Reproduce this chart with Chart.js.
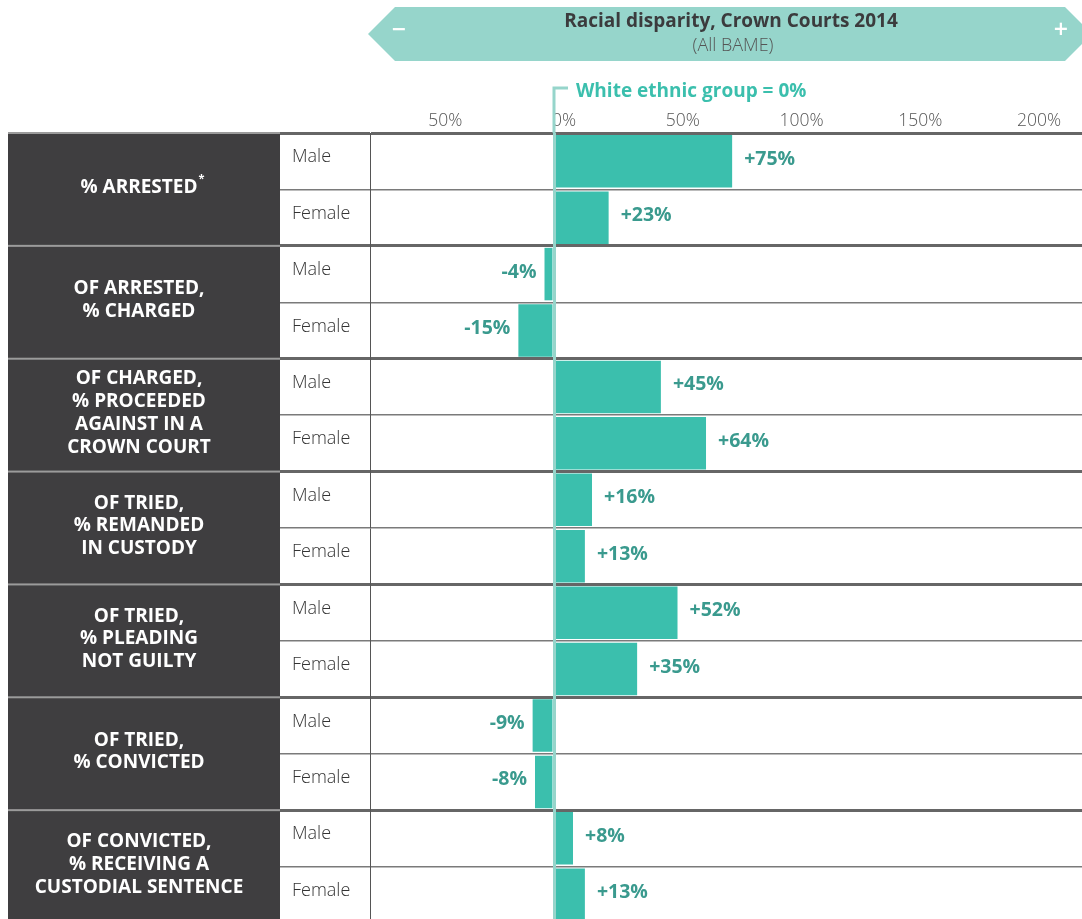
<!DOCTYPE html>
<html lang="en">
<head>
<meta charset="UTF-8">
<title>Racial disparity, Crown Courts 2014</title>
<script src="https://cdn.jsdelivr.net/npm/chart.js"></script>
<style>
  html, body { margin: 0; padding: 0; background: #fff; overflow: hidden; }
  .wrap { position: relative; width: 1082px; height: 923px; }
</style>
</head>
<body>
<div class="wrap"><canvas id="chart"></canvas></div>
<script>
// data
const groups = [
  ['% ARRESTED'],
  ['OF ARRESTED,', '% CHARGED'],
  ['OF CHARGED,', '% PROCEEDED', 'AGAINST IN A', 'CROWN COURT'],
  ['OF TRIED,', '% REMANDED', 'IN CUSTODY'],
  ['OF TRIED,', '% PLEADING', 'NOT GUILTY'],
  ['OF TRIED,', '% CONVICTED'],
  ['OF CONVICTED,', '% RECEIVING A', 'CUSTODIAL SENTENCE']
];
const groupMarks = ['*', '', '', '', '', '', ''];
const sexes = ['Male', 'Female'];
const maleValues = [75, -4, 45, 16, 52, -9, 8];
const femaleValues = [23, -15, 64, 13, 35, -8, 13];
const tickValues = [-50, 0, 50, 100, 150, 200];

const labels = groups.flatMap(() => sexes);
const values = groups.flatMap((g, i) => [maleValues[i], femaleValues[i]]);

const FONT = "'Open Sans', 'Noto Sans', sans-serif";
const TEAL = '#3bbfad';
const TEAL_LIGHT = '#96d5cb';
const TEAL_TEXT = '#3a9a8e';

const ink = {
  id: 'ink',
  beforeDraw(chart) {
    const { ctx, scales: { y } } = chart;
    const half = (y.getPixelForValue(1) - y.getPixelForValue(0)) / 2;
    ctx.save();

    // header banner
    ctx.beginPath();
    ctx.moveTo(368, 34);
    ctx.lineTo(395, 7);
    ctx.lineTo(1065, 7);
    ctx.lineTo(1092, 34);
    ctx.lineTo(1065, 61);
    ctx.lineTo(395, 61);
    ctx.closePath();
    ctx.fillStyle = TEAL_LIGHT;
    ctx.fill();
    ctx.textAlign = 'center';
    ctx.textBaseline = 'middle';
    ctx.fillStyle = '#3b3b3d';
    ctx.font = 'bold 19px ' + FONT;
    ctx.fillText('Racial disparity, Crown Courts 2014', 731, 22);
    ctx.fillStyle = '#555';
    ctx.font = '300 18px ' + FONT;
    ctx.fillText('(All BAME)', 733, 46);
    ctx.fillStyle = '#fff';
    ctx.font = '600 25px ' + FONT;
    ctx.fillText('\u2212', 399, 31);
    ctx.fillText('+', 1061, 31);

    // dark group boxes
    groups.forEach((lines, g) => {
      const top = y.getPixelForValue(g * 2) - half;
      const bot = y.getPixelForValue(g * 2 + 1) + half;
      ctx.fillStyle = '#3f3e40';
      ctx.fillRect(8, top, 272, bot - top);
      ctx.fillStyle = '#fff';
      ctx.font = 'bold 19px ' + FONT;
      ctx.textAlign = 'center';
      const lh = 22.7;
      const mid = (top + bot) / 2 - 2;
      lines.forEach((t, k) => {
        const ty = mid + (k - (lines.length - 1) / 2) * lh;
        ctx.fillText(t, 139, ty);
        if (groupMarks[g] && k === lines.length - 1) {
          const w = ctx.measureText(t).width;
          ctx.font = 'bold 11px ' + FONT;
          ctx.textAlign = 'left';
          ctx.fillText(groupMarks[g], 139 + w / 2 + 1, ty - 9);
          ctx.font = 'bold 19px ' + FONT;
          ctx.textAlign = 'center';
        }
      });
      // separator inside the dark column
      ctx.fillStyle = '#9b9b9b';
      ctx.fillRect(8, top - 1, 272, 2);
    });
    ctx.restore();
  },
  afterDatasetsDraw(chart) {
    const { ctx } = chart;
    const meta = chart.getDatasetMeta(0);
    ctx.save();
    ctx.font = 'bold 19.5px ' + FONT;
    ctx.fillStyle = TEAL_TEXT;
    ctx.textBaseline = 'middle';
    meta.data.forEach((bar, i) => {
      const v = values[i];
      const txt = (v > 0 ? '+' : '') + v + '%';
      ctx.textAlign = v < 0 ? 'right' : 'left';
      ctx.fillText(txt, bar.x + (v < 0 ? -8 : 12), bar.y - 2);
    });
    ctx.restore();
  },
  afterDraw(chart) {
    const { ctx, chartArea: a, scales: { x } } = chart;
    const x0 = x.getPixelForValue(0);
    ctx.save();
    ctx.strokeStyle = TEAL_LIGHT;
    ctx.lineWidth = 3;
    ctx.beginPath();
    ctx.moveTo(x0 + 14, 88);
    ctx.lineTo(x0, 88);
    ctx.lineTo(x0, a.top);
    ctx.stroke();
    ctx.fillStyle = TEAL;
    ctx.font = 'bold 19px ' + FONT;
    ctx.textAlign = 'left';
    ctx.textBaseline = 'middle';
    ctx.fillText('White ethnic group = 0%', x0 + 22, 92);
    ctx.restore();
  }
};

new Chart(document.getElementById('chart'), {
  type: 'bar',
  data: {
    labels: labels,
    datasets: [{
      data: values,
      backgroundColor: TEAL,
      borderWidth: 0,
      barPercentage: 0.93,
      categoryPercentage: 1
    }]
  },
  options: {
    indexAxis: 'y',
    responsive: true,
    maintainAspectRatio: false,
    animation: false,
    layout: { padding: { left: 292, top: 0, right: 0, bottom: 0 } },
    plugins: { legend: { display: false }, tooltip: { enabled: false } },
    scales: {
      x: {
        type: 'linear',
        position: 'top',
        min: -77.47,
        max: 222.3,
        afterBuildTicks: (s) => { s.ticks = tickValues.map(v => ({ value: v })); },
        afterFit: (s) => { s.height = 133; s.paddingLeft = 0; s.paddingRight = 0; },
        border: { display: false },
        grid: {
          z: 1,
          drawTicks: false,
          lineWidth: 3,
          color: (c) => (c.tick && c.tick.value === 0) ? TEAL_LIGHT : 'rgba(0,0,0,0)'
        },
        ticks: {
          padding: 1,
          labelOffset: 10,
          color: '#555',
          font: { family: FONT, size: 17.5, weight: '300' },
          callback: (v) => Math.abs(v) + '%'
        }
      },
      y: {
        type: 'category',
        position: 'left',
        offset: true,
        afterFit: (s) => { s.width = 78; s.paddingTop = 0; s.paddingBottom = 0; },
        border: { display: true, color: '#555', width: 1 },
        grid: {
          offset: true,
          drawTicks: true,
          tickLength: 90,
          color: (c) => (c.index !== undefined && c.index % 2 === 0) ? '#666' : '#7a7a7a',
          lineWidth: (c) => (c.index !== undefined && c.index % 2 === 0) ? 3 : 1.5
        },
        ticks: {
          crossAlign: 'far',
          labelOffset: -4,
          color: '#333',
          font: { family: FONT, size: 18, weight: '300' }
        }
      }
    }
  },
  plugins: [ink]
});
</script>
</body>
</html>
